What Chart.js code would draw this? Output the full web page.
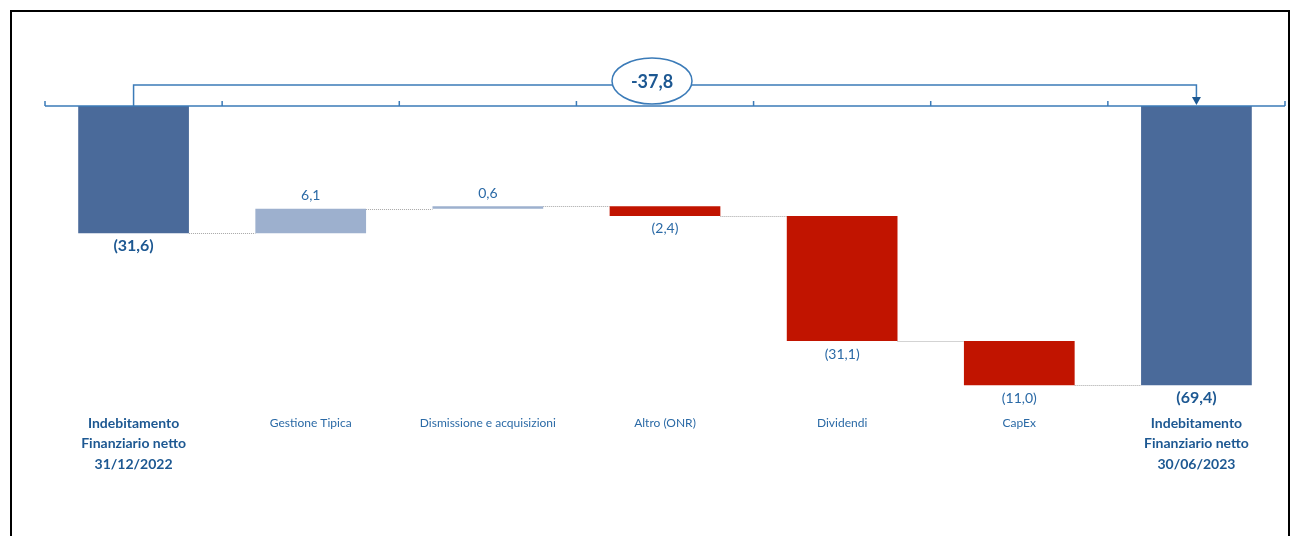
<!DOCTYPE html>
<html lang="it">
<head>
    <meta charset="UTF-8">
    <title>Indebitamento Finanziario netto</title>
    <script src="https://cdn.jsdelivr.net/npm/chart.js"></script>
    <style>
        body { margin: 0; background: #fff; overflow: hidden; width: 1296px; height: 536px; position: relative; }
        .frame { position: absolute; left: 10px; top: 10px; width: 1276px; height: 700px; border: 2px solid #000; }
        #chartWrap { position: absolute; left: 0; top: 0; width: 1296px; height: 536px; }
    </style>
</head>
<body>
    <div class="frame"></div>
    <div id="chartWrap">
        <canvas id="myChart" width="1296" height="536"></canvas>
    </div>

<script>
    // data (millions of euro)
    const categories = [
        ['Indebitamento', 'Finanziario netto', '31/12/2022'],
        ['Gestione Tipica'],
        ['Dismissione e acquisizioni'],
        ['Altro (ONR)'],
        ['Dividendi'],
        ['CapEx'],
        ['Indebitamento', 'Finanziario netto', '30/06/2023']
    ];
    const openingDebt = -31.6;
    const movements = [6.1, 0.6, -2.4, -31.1, -11.0];
    const closingDebt = -69.4;

    const totalColor = '#4A6A9A';
    const upColor = '#9DB0CE';
    const downColor = '#C11400';
    const textBlue = '#2B6AA6';
    const darkBlue = '#1D5892';
    const axisBlue = '#3B7BB8';

    // floating bars [from, to]
    const floats = [[openingDebt, 0]];
    const colors = [totalColor];
    const shownValues = [openingDebt];
    let level = openingDebt;
    movements.forEach(m => {
        const next = Math.round((level + m) * 10) / 10;
        floats.push([level, next]);
        colors.push(m >= 0 ? upColor : downColor);
        shownValues.push(m);
        level = next;
    });
    floats.push([closingDebt, 0]);
    colors.push(totalColor);
    shownValues.push(closingDebt);

    const fmt = v => {
        const s = Math.abs(v).toFixed(1).replace('.', ',');
        return v < 0 ? '(' + s + ')' : s;
    };

    const bridgePlugin = {
        id: 'bridge',
        beforeDatasetsDraw(chart) {
            const ctx = chart.ctx;
            const y = chart.scales.y;
            const bars = chart.getDatasetMeta(0).data;
            ctx.save();
            // dotted connectors between bars
            ctx.strokeStyle = '#A6A6A6';
            ctx.lineWidth = 1;
            ctx.setLineDash([1, 1]);
            for (let i = 0; i < bars.length - 1; i++) {
                const lv = i === 0 ? openingDebt : floats[i][1];
                const py = Math.round(y.getPixelForValue(lv)) + 0.5;
                ctx.beginPath();
                ctx.moveTo(bars[i].x + bars[i].width / 2, py);
                ctx.lineTo(bars[i + 1].x - bars[i + 1].width / 2, py);
                ctx.stroke();
            }
            ctx.restore();
        },
        afterDatasetsDraw(chart) {
            const ctx = chart.ctx;
            const x = chart.scales.x, y = chart.scales.y;
            const area = chart.chartArea;
            const catW = (area.right - area.left) / categories.length;
            const axisY = y.getPixelForValue(0);
            ctx.save();

            // axis line with ticks at category boundaries
            ctx.strokeStyle = axisBlue;
            ctx.lineWidth = 1.5;
            ctx.beginPath();
            ctx.moveTo(area.left, axisY);
            ctx.lineTo(area.right, axisY);
            for (let i = 0; i <= categories.length; i++) {
                const tx = area.left + i * catW;
                ctx.moveTo(tx, axisY);
                ctx.lineTo(tx, axisY - 5);
            }
            ctx.stroke();

            // bracket from first to last bar
            const x0 = x.getPixelForValue(0);
            const x1 = x.getPixelForValue(categories.length - 1);
            const topY = axisY - 21;
            ctx.lineWidth = 1.5;
            ctx.beginPath();
            ctx.moveTo(x0, axisY);
            ctx.lineTo(x0, topY);
            ctx.lineTo(x1, topY);
            ctx.lineTo(x1, axisY - 8);
            ctx.stroke();
            ctx.fillStyle = darkBlue;
            ctx.beginPath();
            ctx.moveTo(x1 - 4.5, axisY - 9);
            ctx.lineTo(x1 + 4.5, axisY - 9);
            ctx.lineTo(x1, axisY - 1);
            ctx.closePath();
            ctx.fill();

            // bubble with the change
            const ex = x.getPixelForValue(3) - 13;
            ctx.beginPath();
            ctx.ellipse(ex, topY - 4, 40, 23, 0, 0, Math.PI * 2);
            ctx.fillStyle = '#fff';
            ctx.fill();
            ctx.strokeStyle = axisBlue;
            ctx.stroke();
            ctx.fillStyle = darkBlue;
            ctx.font = 'bold 18px Lato';
            ctx.textAlign = 'center';
            ctx.textBaseline = 'middle';
            const diff = Math.round((closingDebt - openingDebt) * 10) / 10;
            ctx.fillText(diff.toFixed(1).replace('.', ','), ex, topY - 3);

            // value labels
            shownValues.forEach((v, i) => {
                const isTotal = i === 0 || i === categories.length - 1;
                const lo = Math.min(floats[i][0], floats[i][1]);
                const hi = Math.max(floats[i][0], floats[i][1]);
                const px = x.getPixelForValue(i);
                let py;
                if (v < 0) py = y.getPixelForValue(lo) + 13;
                else py = y.getPixelForValue(hi) - 13;
                ctx.font = isTotal ? 'bold 16px Lato' : '14px Lato';
                ctx.fillStyle = isTotal ? darkBlue : textBlue;
                ctx.fillText(fmt(v), px, py);
            });

            // category labels
            categories.forEach((lines, i) => {
                const isTotal = lines.length > 1;
                ctx.font = isTotal ? 'bold 14px Lato' : '12px Lato';
                ctx.fillStyle = isTotal ? darkBlue : textBlue;
                lines.forEach((t, j) => {
                    ctx.fillText(t, x.getPixelForValue(i), 423 + j * 20.5);
                });
            });
            ctx.restore();
        }
    };

    const ctx = document.getElementById('myChart').getContext('2d');
    new Chart(ctx, {
        type: 'bar',
        data: {
            labels: categories,
            datasets: [{
                data: floats,
                backgroundColor: colors,
                borderWidth: 0,
                barPercentage: 0.625,
                categoryPercentage: 1
            }]
        },
        options: {
            responsive: false,
            animation: false,
            layout: { padding: { top: 106, bottom: 108, left: 45, right: 11 } },
            plugins: {
                legend: { display: false },
                tooltip: { enabled: false }
            },
            scales: {
                x: { display: false, offset: true },
                y: { display: false, min: -80, max: 0 }
            }
        },
        plugins: [bridgePlugin]
    });
</script>
</body>
</html>
